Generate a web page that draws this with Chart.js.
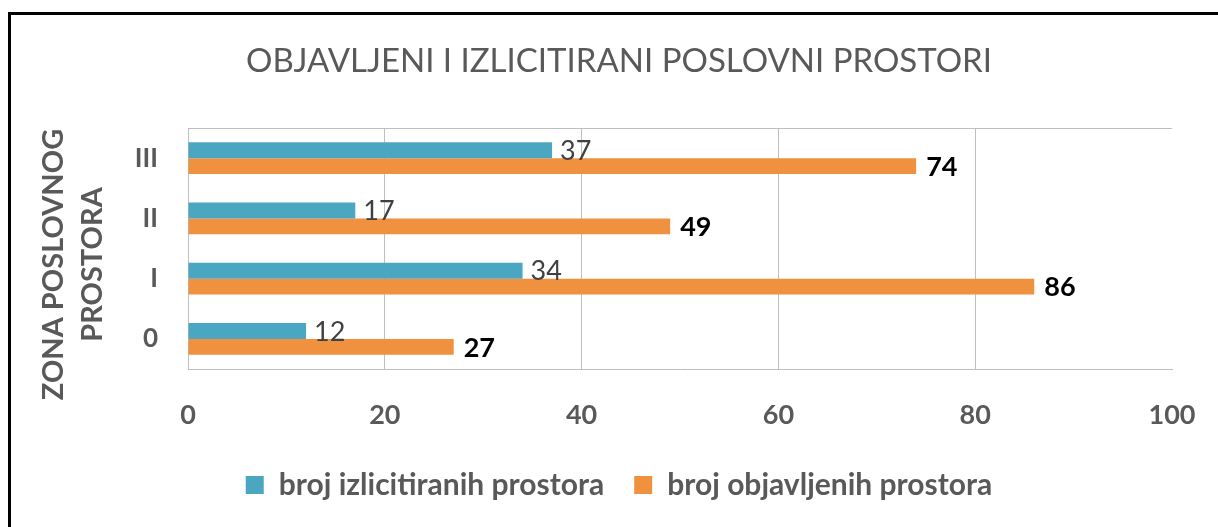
<!DOCTYPE html>
<html>
<head>
<meta charset="utf-8">
<script src="https://cdn.jsdelivr.net/npm/chart.js@4/dist/chart.umd.min.js"></script>
<style>
  html, body { margin: 0; padding: 0; background: #fff; }
  #frame { position: absolute; left: 8px; top: 12px; width: 1220px; height: 530px;
           border-top: 3px solid #000; border-left: 3px solid #000; }
  #chart { position: absolute; left: 0; top: 0; }
</style>
</head>
<body>
<div id="frame"></div>
<canvas id="chart" width="1218" height="527"></canvas>
<script>
// zones, listed top to bottom as in the picture
var zones = ['III', 'II', 'I', '0'];
var auctioned = [37, 17, 34, 12];
var published = [74, 49, 86, 27];
var xTicks = [0, 20, 40, 60, 80, 100];
var yTitle = ['ZONA POSLOVNOG', 'PROSTORA'];

var teal = '#4BA7C1';
var orange = '#F0913F';
var gray = '#595959';
var FONT = 'Lato';

// value labels next to bar ends
var barLabels = {
    id: 'barLabels',
    afterDatasetsDraw: function(chart) {
        var ctx = chart.ctx;
        ctx.save();
        ctx.textBaseline = 'middle';
        ctx.textAlign = 'left';
        chart.data.datasets.forEach(function(ds, i) {
            var meta = chart.getDatasetMeta(i);
            ctx.font = (i == 1 ? 'bold ' : '') + '27px ' + FONT;
            ctx.fillStyle = i == 1 ? '#000' : '#404040';
            meta.data.forEach(function(bar, j) {
                ctx.fillText(ds.data[j], bar.x + (i == 1 ? 10 : 8), bar.y + 1);
            });
        });
        ctx.restore();
    }
};

// top edge of the plot area + the rotated y axis title (sits a bit below centre)
var plotExtras = {
    id: 'plotExtras',
    beforeDatasetsDraw: function(chart) {
        var a = chart.chartArea, ctx = chart.ctx;
        ctx.save();
        ctx.strokeStyle = '#BFBFBF';
        ctx.lineWidth = 1;
        ctx.beginPath();
        ctx.moveTo(a.left, a.top + 0.5);
        ctx.lineTo(a.right, a.top + 0.5);
        ctx.stroke();
        ctx.restore();
    },
    afterDraw: function(chart) {
        var a = chart.chartArea, ctx = chart.ctx;
        var sy = chart.scales.y;
        ctx.save();
        ctx.translate(sy.left - 12, (a.top + a.bottom) / 2 + 16);
        ctx.rotate(-Math.PI / 2);
        ctx.font = 'bold 29px ' + FONT;
        ctx.fillStyle = gray;
        ctx.textAlign = 'center';
        ctx.textBaseline = 'middle';
        yTitle.forEach(function(t, i) { ctx.fillText(t, 0, i * 39); });
        ctx.restore();
    }
};

var chart = new Chart(document.getElementById('chart').getContext('2d'), {
    type: 'bar',
    data: {
        labels: zones,
        datasets: [
            { label: 'broj izlicitiranih prostora', data: auctioned, backgroundColor: teal },
            { label: 'broj objavljenih prostora', data: published, backgroundColor: orange }
        ]
    },
    plugins: [barLabels, plotExtras],
    options: {
        indexAxis: 'y',
        responsive: false,
        animation: false,
        barPercentage: 1,
        categoryPercentage: 0.53,
        layout: { padding: { left: 66, right: 46, top: 0, bottom: 17 } },
        scales: {
            x: {
                min: 0, max: 100,
                afterBuildTicks: function(scale) {
                    scale.ticks = xTicks.map(function(v) { return { value: v }; });
                },
                afterFit: function(scale) {
                    scale.height = 71;
                    scale.paddingLeft = 0;
                    scale.paddingRight = 0;
                },
                grid: {
                    drawTicks: false,
                    color: function(c) { return c.tick && c.tick.value === 100 ? 'rgba(0,0,0,0)' : '#BFBFBF'; }
                },
                border: { display: true, color: '#BFBFBF' },
                ticks: { padding: 30, color: gray, font: { family: FONT, size: 27, weight: 'bold' } }
            },
            y: {
                afterFit: function(scale) { scale.width = 122; },
                grid: { display: false, drawTicks: false },
                border: { display: true, color: '#BFBFBF' },
                ticks: { padding: 30, color: gray, font: { family: FONT, size: 26, weight: 'bold' } }
            }
        },
        plugins: {
            title: {
                display: true,
                text: 'OBJAVLJENI I IZLICITIRANI POSLOVNI PROSTORI',
                color: gray,
                font: { family: FONT, size: 33, weight: 'normal', lineHeight: 1.2 },
                padding: { top: 42, bottom: 46.4 }
            },
            legend: {
                position: 'bottom',
                labels: {
                    color: gray,
                    boxWidth: 18, boxHeight: 18,
                    padding: 30,
                    font: { family: FONT, size: 30, weight: 'bold' }
                }
            },
            tooltip: { enabled: false }
        }
    }
});
</script>
</body>
</html>
